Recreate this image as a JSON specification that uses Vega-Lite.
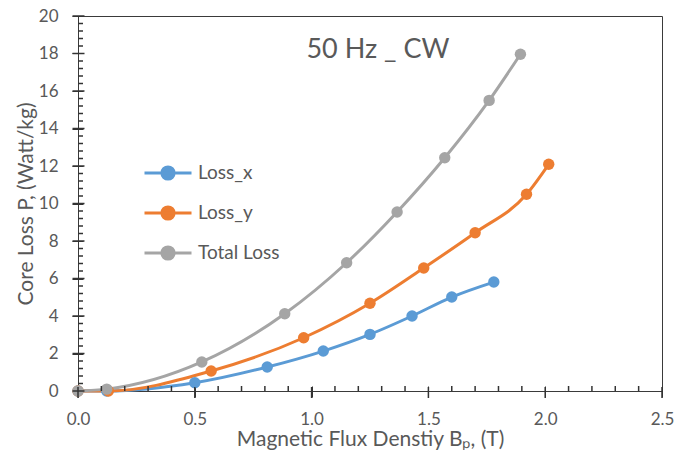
{
  "$schema": "https://vega.github.io/schema/vega-lite/v6.json",
  "width": 584,
  "height": 375,
  "autosize": {"type": "none"},
  "padding": {"left": 78, "top": 16, "right": 28, "bottom": 59},
  "background": "white",
  "config": {
    "font": "Lato",
    "view": {"stroke": "#3a3a3a", "strokeWidth": 1},
    "axis": {"grid": false, "domain": false, "labelFlush": false, "labelOverlap": false, "tickColor": "#333333", "labelColor": "#595959", "titleColor": "#595959", "labelFont": "Lato", "titleFont": "Lato", "labelFontSize": 17, "titleFontSize": 21, "titleFontWeight": "normal"}
  },
  "datasets": {
    "xmajor": [{"t": 0}, {"t": 0.5}, {"t": 1}, {"t": 1.5}, {"t": 2}, {"t": 2.5}],
    "xminor": [{"t": 0.1}, {"t": 0.2}, {"t": 0.3}, {"t": 0.4}, {"t": 0.6}, {"t": 0.7}, {"t": 0.8}, {"t": 0.9}, {"t": 1.1}, {"t": 1.2}, {"t": 1.3}, {"t": 1.4}, {"t": 1.6}, {"t": 1.7}, {"t": 1.8}, {"t": 1.9}, {"t": 2.1}, {"t": 2.2}, {"t": 2.3}, {"t": 2.4}],
    "ymajor": [{"t": 0}, {"t": 2}, {"t": 4}, {"t": 6}, {"t": 8}, {"t": 10}, {"t": 12}, {"t": 14}, {"t": 16}, {"t": 18}, {"t": 20}],
    "yminor": [{"t": 0.4}, {"t": 0.8}, {"t": 1.2}, {"t": 1.6}, {"t": 2.4}, {"t": 2.8}, {"t": 3.2}, {"t": 3.6}, {"t": 4.4}, {"t": 4.8}, {"t": 5.2}, {"t": 5.6}, {"t": 6.4}, {"t": 6.8}, {"t": 7.2}, {"t": 7.6}, {"t": 8.4}, {"t": 8.8}, {"t": 9.2}, {"t": 9.6}, {"t": 10.4}, {"t": 10.8}, {"t": 11.2}, {"t": 11.6}, {"t": 12.4}, {"t": 12.8}, {"t": 13.2}, {"t": 13.6}, {"t": 14.4}, {"t": 14.8}, {"t": 15.2}, {"t": 15.6}, {"t": 16.4}, {"t": 16.8}, {"t": 17.2}, {"t": 17.6}, {"t": 18.4}, {"t": 18.8}, {"t": 19.2}, {"t": 19.6}],
    "loss": [
      {"s": "Loss_x", "b": 0, "p": 0},
      {"s": "Loss_x", "b": 0.123, "p": 0},
      {"s": "Loss_x", "b": 0.5, "p": 0.44},
      {"s": "Loss_x", "b": 0.81, "p": 1.28},
      {"s": "Loss_x", "b": 1.05, "p": 2.13},
      {"s": "Loss_x", "b": 1.25, "p": 3.02},
      {"s": "Loss_x", "b": 1.43, "p": 4.0},
      {"s": "Loss_x", "b": 1.6, "p": 5.01},
      {"s": "Loss_x", "b": 1.78, "p": 5.81},
      {"s": "Loss_y", "b": 0, "p": 0},
      {"s": "Loss_y", "b": 0.13, "p": 0},
      {"s": "Loss_y", "b": 0.57, "p": 1.07},
      {"s": "Loss_y", "b": 0.966, "p": 2.84},
      {"s": "Loss_y", "b": 1.25, "p": 4.68},
      {"s": "Loss_y", "b": 1.48, "p": 6.56},
      {"s": "Loss_y", "b": 1.7, "p": 8.44},
      {"s": "Loss_y", "b": 1.92, "p": 10.49},
      {"s": "Loss_y", "b": 2.015, "p": 12.09},
      {"s": "Total Loss", "b": 0, "p": 0},
      {"s": "Total Loss", "b": 0.123, "p": 0.1},
      {"s": "Total Loss", "b": 0.53, "p": 1.55},
      {"s": "Total Loss", "b": 0.885, "p": 4.12},
      {"s": "Total Loss", "b": 1.15, "p": 6.84},
      {"s": "Total Loss", "b": 1.366, "p": 9.55},
      {"s": "Total Loss", "b": 1.57, "p": 12.44},
      {"s": "Total Loss", "b": 1.76, "p": 15.5},
      {"s": "Total Loss", "b": 1.894, "p": 17.96}
    ]
  },
  "layer": [
    {"data": {"name": "loss"},
     "mark": {"type": "line", "strokeWidth": 3, "interpolate": "monotone"},
     "encoding": {
       "x": {"field": "b", "type": "quantitative",
         "scale": {"domain": [0, 2.5], "nice": false, "zero": false},
         "axis": {"orient": "bottom", "title": "Magnetic Flux Denstiy Bₚ, (T)", "offset": -5,
           "values": [0, 0.5, 1, 1.5, 2, 2.5], "format": ".1f", "tickSize": 11,
           "labelPadding": 14, "titlePadding": 1}},
       "y": {"field": "p", "type": "quantitative",
         "scale": {"domain": [0, 20], "nice": false},
         "axis": {"orient": "left", "title": "Core Loss P, (Watt/kg)", "offset": -5,
           "values": [0, 2, 4, 6, 8, 10, 12, 14, 16, 18, 20], "format": "d", "tickSize": 11,
           "labelPadding": 14, "titlePadding": 2}},
       "color": {"field": "s", "type": "nominal",
         "scale": {"domain": ["Loss_x", "Loss_y", "Total Loss"], "range": ["#5B9BD5", "#ED7D31", "#A5A5A5"]},
         "legend": {"title": null, "orient": "none", "legendX": 65, "legendY": 132,
           "symbolType": "M-1,0L1,0M-0.26,0A0.26,0.26,0,1,0,0.26,0A0.26,0.26,0,1,0,-0.26,0",
           "symbolSize": 2209, "symbolStrokeWidth": 3, "labelFont": "Lato", "labelFontSize": 19, "labelColor": "#595959", "labelOffset": 5, "rowPadding": 2,
           "encode": {"symbols": {"update": {"fill": {"scale": "color", "field": "value"}, "stroke": {"scale": "color", "field": "value"}, "opacity": {"value": 1}, "fillOpacity": {"value": 1}}}}}}
     }},
    {"data": {"name": "loss"},
     "mark": {"type": "point", "filled": true, "size": 130, "opacity": 1},
     "encoding": {
       "x": {"field": "b", "type": "quantitative", "axis": null},
       "y": {"field": "p", "type": "quantitative", "axis": null},
       "color": {"field": "s", "type": "nominal"}
     }},
    {"data": {"name": "xmajor"},
     "mark": {"type": "tick", "orient": "vertical", "size": 11, "thickness": 1.5, "color": "#333333", "opacity": 1, "yOffset": 1.5},
     "encoding": {"x": {"field": "t", "type": "quantitative", "axis": null},
                  "y": {"datum": 0, "type": "quantitative", "axis": null}}},
    {"data": {"name": "xminor"},
     "mark": {"type": "tick", "orient": "vertical", "size": 5, "thickness": 1.5, "color": "#333333", "opacity": 1, "yOffset": -2.5},
     "encoding": {"x": {"field": "t", "type": "quantitative", "axis": null},
                  "y": {"datum": 0, "type": "quantitative", "axis": null}}},
    {"data": {"name": "ymajor"},
     "mark": {"type": "tick", "orient": "horizontal", "size": 12, "thickness": 1.5, "color": "#333333", "opacity": 1, "xOffset": 0.5},
     "encoding": {"y": {"field": "t", "type": "quantitative", "axis": null},
                  "x": {"datum": 0, "type": "quantitative", "axis": null}}},
    {"data": {"name": "yminor"},
     "mark": {"type": "tick", "orient": "horizontal", "size": 5, "thickness": 1.5, "color": "#333333", "opacity": 1, "xOffset": 2.5},
     "encoding": {"y": {"field": "t", "type": "quantitative", "axis": null},
                  "x": {"datum": 0, "type": "quantitative", "axis": null}}},
    {"data": {"values": [{"label": "50 Hz _ CW"}]},
     "mark": {"type": "text", "font": "Lato", "fontSize": 27, "align": "center", "baseline": "alphabetic"},
     "encoding": {"text": {"field": "label"}, "x": {"datum": 1.284, "type": "quantitative", "axis": null}, "y": {"datum": 17.76, "type": "quantitative", "axis": null}, "color": {"value": "#595959"}}}
  ],
  "resolve": {"axis": {"x": "independent", "y": "independent"}}
}
